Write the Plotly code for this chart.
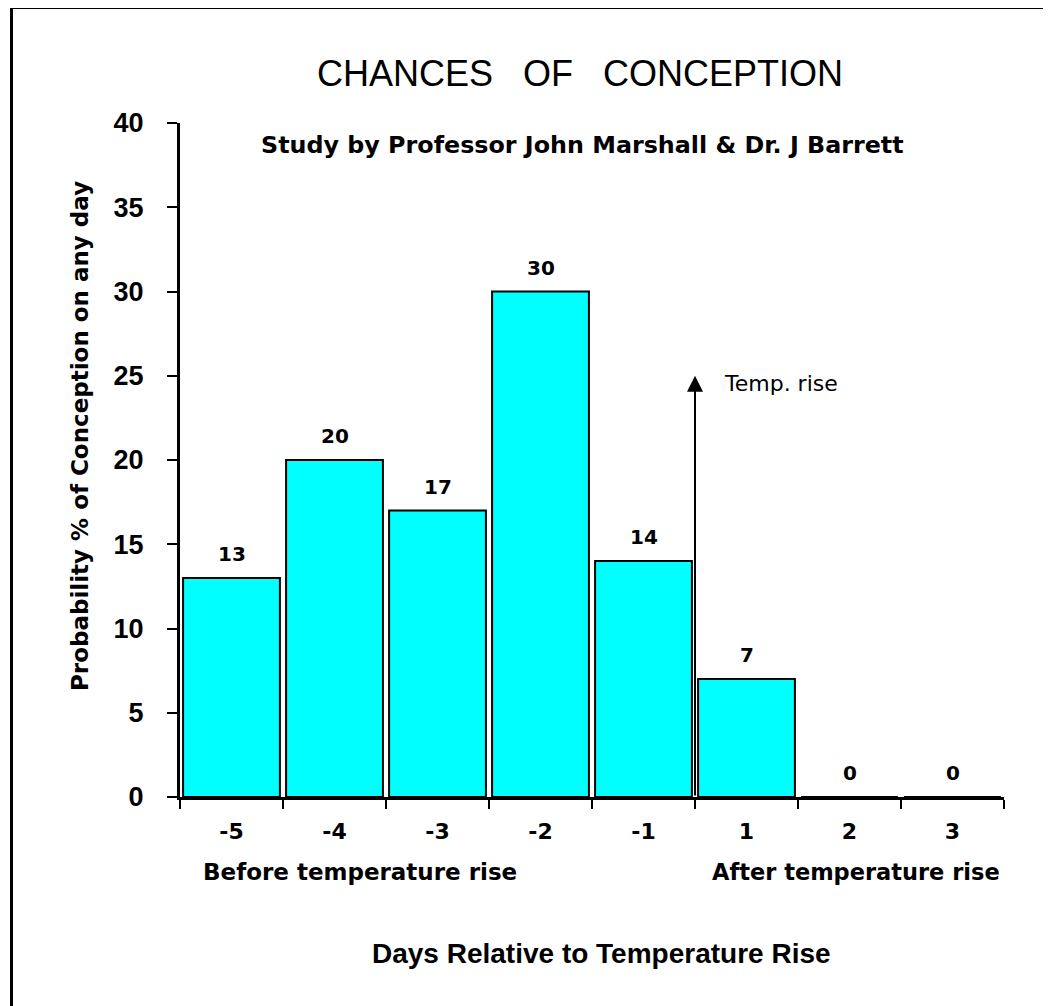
import plotly.graph_objects as go

# ---- data ----
days = ["-5", "-4", "-3", "-2", "-1", "1", "2", "3"]
probability = [13, 20, 17, 30, 14, 7, 0, 0]
y_ticks = [0, 5, 10, 15, 20, 25, 30, 35, 40]
temp_rise_position = 4.5   # boundary between day -1 and day 1 (category index)
temp_rise_arrow_top = 25

OFF = 8                      # page body margin
W, H = 1051 - OFF, 1006 - OFF
PLOT_LEFT, PLOT_RIGHT, PLOT_TOP, PLOT_BOTTOM = 180, 1004, 123, 797
L = PLOT_LEFT - OFF
R = W + OFF - PLOT_RIGHT
T = PLOT_TOP - OFF
B = H + OFF - PLOT_BOTTOM
PW, PH = W - L - R, H - T - B

def px(x):
    return (x - PLOT_LEFT) / PW

def py(y):
    return (PLOT_BOTTOM - y) / PH

WIDE = "DejaVu Sans, Verdana, sans-serif"
ARIAL = "Liberation Sans, Arial, sans-serif"

fig = go.Figure()
fig.add_trace(go.Bar(
    x=list(range(len(days))), y=probability,
    marker=dict(color="#00FFFF", line=dict(color="black", width=2)),
    hoverinfo="skip",
))

annotations = []
for i, v in enumerate(probability):
    annotations.append(dict(
        x=i, y=v, xref="x", yref="y", text=f"<b>{v}</b>", showarrow=False,
        yanchor="bottom", yshift=10, font=dict(family=WIDE, size=20, color="black"),
    ))

# temperature rise arrow
annotations.append(dict(
    x=temp_rise_position, y=temp_rise_arrow_top, xref="x", yref="y",
    ax=temp_rise_position, ay=0, axref="x", ayref="y",
    showarrow=True, arrowhead=2, arrowsize=1.6, arrowwidth=2, arrowcolor="black",
    text="", standoff=0, startstandoff=0,
))
annotations.append(dict(
    x=px(722), y=py(383), xref="paper", yref="paper", text="Temp. rise",
    showarrow=False, xanchor="left", yanchor="middle",
    font=dict(family=WIDE, size=22, color="black"),
))

# titles
annotations.append(dict(
    x=px(580), y=py(73), xref="paper", yref="paper",
    text="CHANCES\u00a0\u00a0\u00a0OF\u00a0\u00a0\u00a0CONCEPTION",
    showarrow=False, xanchor="center", yanchor="middle",
    font=dict(family=ARIAL, size=36, color="black"),
))
annotations.append(dict(
    x=px(582), y=py(145), xref="paper", yref="paper",
    text="<b>Study by Professor John Marshall &amp; Dr. J Barrett</b>",
    showarrow=False, xanchor="center", yanchor="middle",
    font=dict(family=WIDE, size=23.8, color="black"),
))
annotations.append(dict(
    x=px(80), y=py(436), xref="paper", yref="paper",
    text="<b>Probability % of Conception on any day</b>", textangle=-90,
    showarrow=False, xanchor="center", yanchor="middle",
    font=dict(family=WIDE, size=23, color="black"),
))
annotations.append(dict(
    x=px(360), y=py(872), xref="paper", yref="paper",
    text="<b>Before temperature rise</b>",
    showarrow=False, xanchor="center", yanchor="middle",
    font=dict(family=WIDE, size=23, color="black"),
))
annotations.append(dict(
    x=px(856), y=py(872), xref="paper", yref="paper",
    text="<b>After temperature rise</b>",
    showarrow=False, xanchor="center", yanchor="middle",
    font=dict(family=WIDE, size=22.5, color="black"),
))
annotations.append(dict(
    x=px(601), y=py(953), xref="paper", yref="paper",
    text="<b>Days Relative to Temperature Rise</b>",
    showarrow=False, xanchor="center", yanchor="middle",
    font=dict(family=ARIAL, size=28, color="black"),
))

shapes = [
    # frame (top and left)
    dict(type="rect", xref="paper", yref="paper", x0=px(10), x1=px(1060),
         y0=py(9), y1=py(5), fillcolor="black", line=dict(width=0), layer="above"),
    dict(type="rect", xref="paper", yref="paper", x0=px(10), x1=px(13),
         y0=py(1010), y1=py(5), fillcolor="black", line=dict(width=0), layer="above"),
]

fig.update_layout(
    width=W, height=H,
    margin=dict(l=L, r=R, t=T, b=B, pad=0),
    paper_bgcolor="white", plot_bgcolor="white",
    showlegend=False, bargap=0.06,
    annotations=annotations, shapes=shapes,
    xaxis=dict(
        type="linear", range=[-0.5, 7.5],
        tickvals=list(range(len(days))), ticktext=[f"<b>{d}</b>" for d in days],
        ticks="", showline=True, linecolor="black", linewidth=3,
        showgrid=False, zeroline=False, ticklabelstandoff=13,
        tickfont=dict(family=WIDE, size=22, color="black"),
        minor=dict(tickvals=[i - 0.5 for i in range(len(days) + 1)],
                   ticks="outside", ticklen=9, tickwidth=2, tickcolor="black",
                   showgrid=False),
    ),
    yaxis=dict(
        range=[0, 40], tickvals=y_ticks, ticktext=[f"<b>{t}</b>" for t in y_ticks],
        ticks="outside", ticklen=10, tickwidth=2, tickcolor="black",
        showline=True, linecolor="black", linewidth=3, showgrid=False,
        zeroline=False, ticklabelstandoff=18,
        tickfont=dict(family=ARIAL, size=27, color="black"),
    ),
)

fig.write_html("out.html")
